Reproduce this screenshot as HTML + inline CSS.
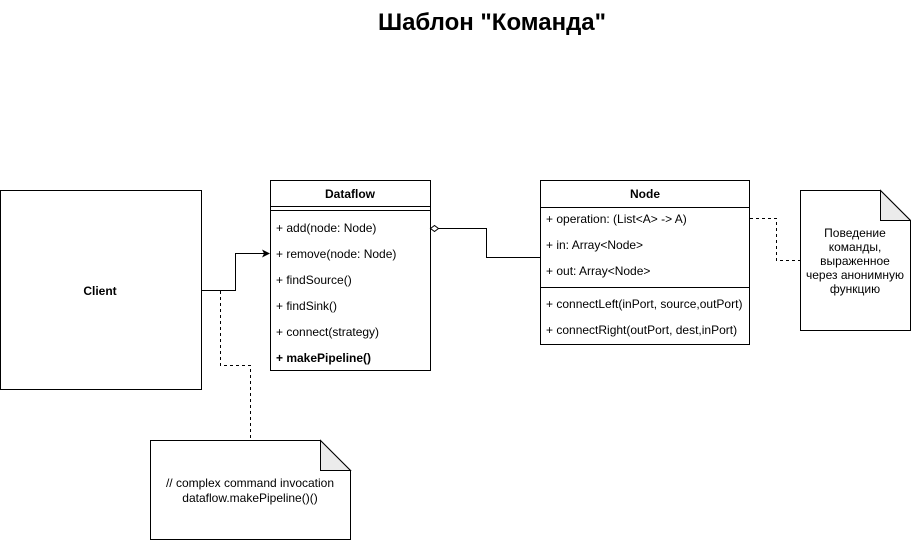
<!DOCTYPE html>
<html><head><meta charset="utf-8"><style>
html,body{margin:0;padding:0;background:#fff;}
svg{display:block;font-family:"Liberation Sans",Arial,sans-serif;}
</style></head><body>
<svg width="911" height="541" viewBox="0 0 911 541" xmlns="http://www.w3.org/2000/svg">
<text x="492" y="30" font-size="24" font-weight="bold" text-anchor="middle">Шаблон "Команда"</text>

<!-- Client -->
<rect x="0.5" y="190.5" width="201" height="199" fill="#fff" stroke="#000"/>
<text x="100" y="295" font-size="12" font-weight="bold" text-anchor="middle">Client</text>

<!-- Dataflow -->
<rect x="270.5" y="180.5" width="160" height="190" fill="#fff" stroke="#000"/>
<line x1="270" y1="206.5" x2="430" y2="206.5" stroke="#000"/>
<line x1="270" y1="210.5" x2="430" y2="210.5" stroke="#000"/>
<text x="350" y="198" font-size="12" font-weight="bold" text-anchor="middle">Dataflow</text>
<g font-size="12">
<text x="276" y="232">+ add(node: Node)</text>
<text x="276" y="258">+ remove(node: Node)</text>
<text x="276" y="284">+ findSource()</text>
<text x="276" y="310">+ findSink()</text>
<text x="276" y="336">+ connect(strategy)</text>
<text x="276" y="362" font-weight="bold">+ makePipeline()</text>
</g>

<!-- Node -->
<rect x="540.5" y="180.5" width="209" height="164" fill="#fff" stroke="#000"/>
<line x1="540" y1="207.5" x2="750" y2="207.5" stroke="#000"/>
<line x1="540" y1="287.5" x2="750" y2="287.5" stroke="#000"/>
<text x="645" y="198" font-size="12" font-weight="bold" text-anchor="middle">Node</text>
<g font-size="12">
<text x="546" y="223">+ operation: (List&lt;A&gt; -&gt; A)</text>
<text x="546" y="249">+ in: Array&lt;Node&gt;</text>
<text x="546" y="275">+ out: Array&lt;Node&gt;</text>
<text x="546" y="308">+ connectLeft(inPort, source,outPort)</text>
<text x="546" y="334">+ connectRight(outPort, dest,inPort)</text>
</g>

<!-- Client -> Dataflow arrow -->
<polyline points="201,290.5 235.5,290.5 235.5,253.5 264,253.5" fill="none" stroke="#000"/>
<polygon points="270,253.5 262,249.5 264,253.5 262,257.5" fill="#000"/>

<!-- aggregation -->
<polyline points="438,228.5 486.5,228.5 486.5,257.5 541,257.5" fill="none" stroke="#000"/>
<polygon points="430.5,228.5 434.5,225.5 438.5,228.5 434.5,231.5" fill="#fff" stroke="#000"/>

<!-- dashed note links -->
<polyline points="220.5,291 220.5,365.5 250.5,365.5 250.5,440" fill="none" stroke="#000" stroke-dasharray="3,3"/>
<polyline points="750,218.5 776.5,218.5 776.5,260.5 800,260.5" fill="none" stroke="#000" stroke-dasharray="3,3"/>

<!-- note bottom -->
<path d="M150.5,440.5 H320.5 L350.5,470.5 V539.5 H150.5 Z" fill="#fff" stroke="#000"/>
<path d="M320.5,440.5 V470.5 H350.5 Z" fill="#ebebeb" stroke="#000"/>
<text x="250" y="487" font-size="12" text-anchor="middle">// complex command invocation</text>
<text x="250" y="502" font-size="12" text-anchor="middle">dataflow.makePipeline()()</text>

<!-- note right -->
<path d="M800.5,190.5 H880.5 L910.5,220.5 V330.5 H800.5 Z" fill="#fff" stroke="#000"/>
<path d="M880.5,190.5 V220.5 H910.5 Z" fill="#ebebeb" stroke="#000"/>
<g font-size="12" text-anchor="middle">
<text x="855" y="237">Поведение</text>
<text x="855" y="251">команды,</text>
<text x="855" y="265">выраженное</text>
<text x="855" y="279">через анонимную</text>
<text x="855" y="293">функцию</text>
</g>
</svg>
</body></html>
